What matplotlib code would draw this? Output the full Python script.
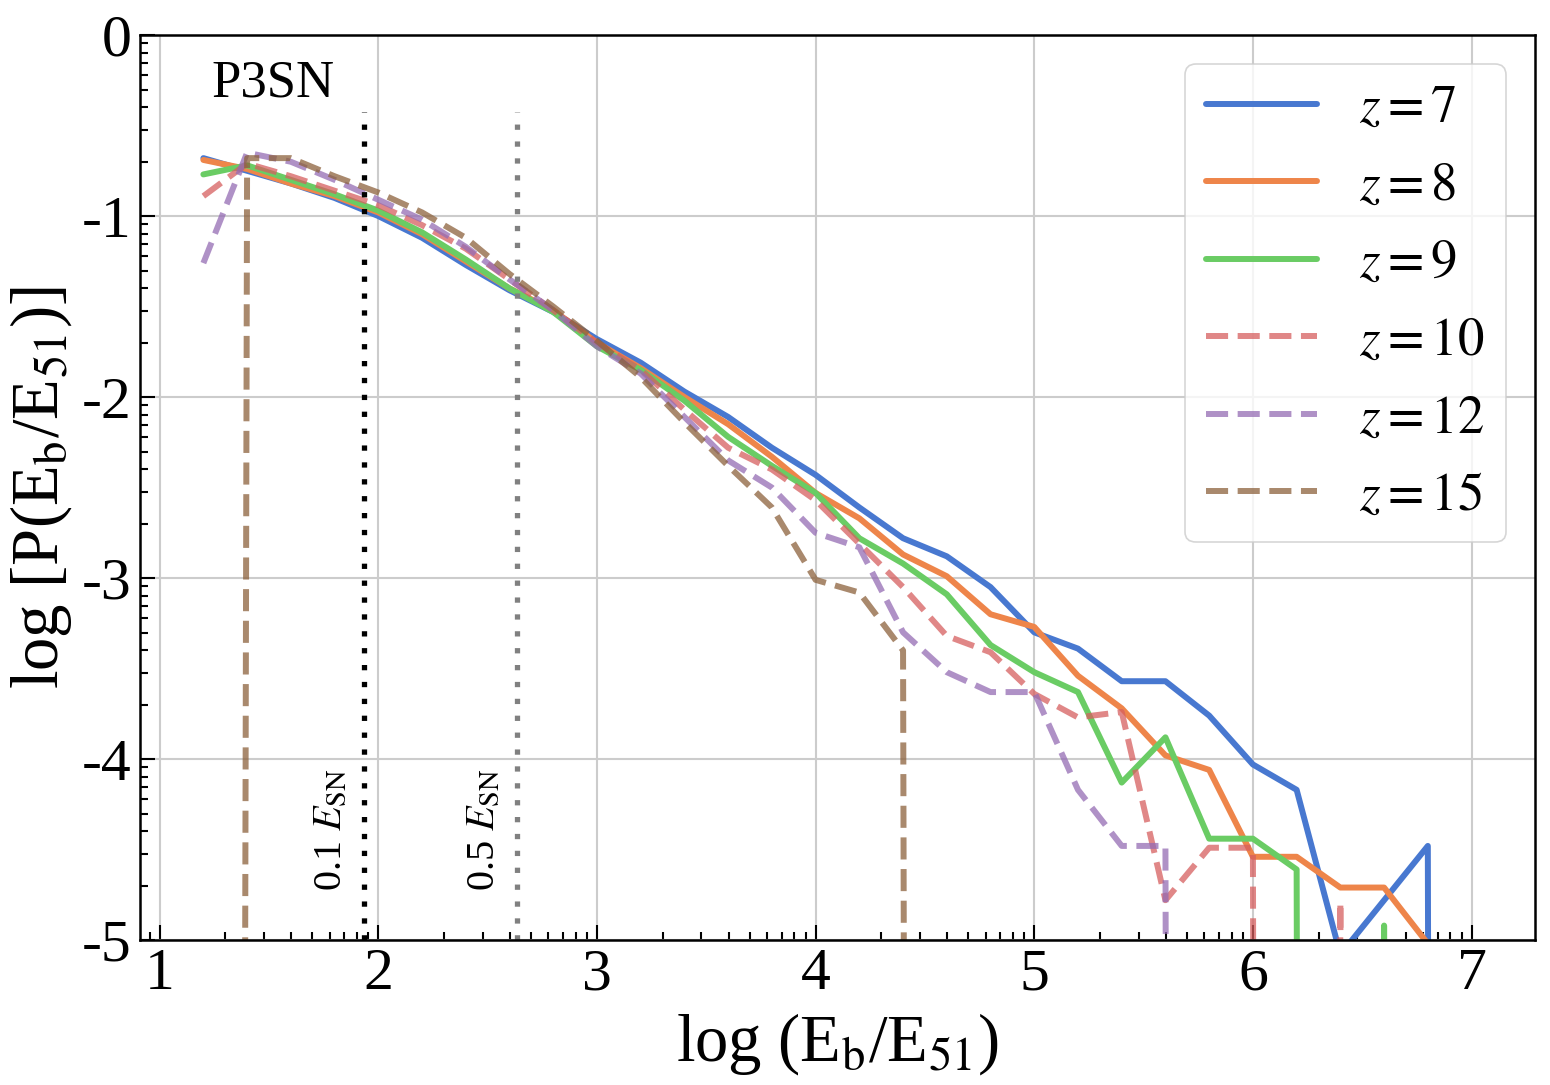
import numpy as np
import matplotlib
matplotlib.use('Agg')
import matplotlib.pyplot as plt
from matplotlib.ticker import FixedLocator

plt.rcParams['font.family'] = ['Liberation Serif', 'DejaVu Serif']
plt.rcParams['mathtext.fontset'] = 'stix'

E = -99.0  # empty bin, log of zero

log_eb = [1.2, 1.4, 1.6, 1.8, 2.0, 2.2, 2.4, 2.6, 2.8, 3.0,
          3.2, 3.4, 3.6, 3.8, 4.0, 4.2, 4.4, 4.6, 4.8, 5.0,
          5.2, 5.4, 5.6, 5.8, 6.0, 6.2, 6.4, 6.6, 6.8, 7.0]

p_z7 = [-0.68, -0.75, -0.82, -0.90, -1.00, -1.12, -1.27, -1.41, -1.53, -1.68,
        -1.81, -1.97, -2.11, -2.28, -2.43, -2.61, -2.78, -2.88, -3.05, -3.30,
        -3.39, -3.57, -3.57, -3.76, -4.03, -4.17, -5.08, -4.78, -4.48, E]
p_z8 = [-0.69, -0.74, -0.82, -0.89, -0.98, -1.10, -1.25, -1.40, -1.52, -1.70,
        -1.84, -2.00, -2.15, -2.33, -2.53, -2.67, -2.87, -2.99, -3.20, -3.27,
        -3.54, -3.72, -3.98, -4.06, -4.54, -4.54, -4.71, -4.71, -5.02, E]
p_z9 = [-0.77, -0.72, -0.80, -0.88, -0.97, -1.09, -1.24, -1.40, -1.53, -1.72,
        -1.85, -2.02, -2.22, -2.38, -2.53, -2.78, -2.92, -3.09, -3.37, -3.52,
        -3.63, -4.13, -3.88, -4.44, -4.44, -4.61, E, -4.92, E, E]
p_z10 = [-0.89, -0.71, -0.78, -0.86, -0.94, -1.05, -1.18, -1.35, -1.52, -1.70,
         -1.85, -2.07, -2.28, -2.40, -2.57, -2.81, -3.05, -3.32, -3.41, -3.64,
         -3.77, -3.74, -4.78, -4.49, -4.49, E, -4.79, E, E, E]
p_z12 = [-1.26, -0.65, -0.70, -0.80, -0.91, -1.02, -1.17, -1.35, -1.52, -1.72,
         -1.87, -2.11, -2.35, -2.50, -2.75, -2.83, -3.30, -3.52, -3.63, -3.63,
         -4.17, -4.48, -4.48, E, E, E, E, E, E, E]
p_z15 = [E, -0.68, -0.68, -0.78, -0.87, -0.98, -1.12, -1.32, -1.50, -1.69,
         -1.89, -2.14, -2.38, -2.61, -3.01, -3.08, -3.40, E, E, E,
         E, E, E, E, E, E, E, E, E, E]

series = [('7', p_z7), ('8', p_z8), ('9', p_z9),
          ('10', p_z10), ('12', p_z12), ('15', p_z15)]
colors = ['#4878D0', '#EE854A', '#6ACC64', '#D65F5F', '#956CB4', '#8C613C']
styles = ['-', '-', '-', '--', '--', '--']
alphas = [1, 1, 1, 0.75, 0.75, 0.75]

e_sn_lines = [1.936, 2.635]
e_sn_labels = ['0.1', '0.5']
e_sn_colors = ['black', 'gray']

xticks = [1, 2, 3, 4, 5, 6, 7]
yticks = [-5, -4, -3, -2, -1, 0]
ytick_labels = ['-5', '-4', '-3', '-2', '-1', '0']

fig = plt.figure(figsize=(15.5, 10.85), dpi=100)
ax = fig.add_axes([0.0903, 0.1336, 0.9, 0.8341])

for (z, p), c, ls, a in zip(series, colors, styles, alphas):
    ax.plot(log_eb, p, color=c, ls=ls, lw=4.3, alpha=a, solid_capstyle='round',
            label=r'$z = %s$' % z)

for xv, lab, c in zip(e_sn_lines, e_sn_labels, e_sn_colors):
    ax.axvline(xv, ymin=0, ymax=0.915, color=c, lw=3.8, ls=(0, (1, 2.2)))
    ax.text(xv - 0.15, -4.73, lab + r' $E_{\rm SN}$', rotation=90,
            ha='center', va='bottom', fontsize=29)

ax.text(1.235, -0.34, 'P3SN', fontsize=38)

ax.set_xlim(0.91, 7.29)
ax.set_ylim(-5, 0)
ax.set_xticks(xticks)
ax.set_xticklabels([str(t) for t in xticks])
ax.set_yticks(yticks)
ax.set_yticklabels(ytick_labels)
ax.xaxis.set_minor_locator(FixedLocator([n + np.log10(k) for n in range(0, 8) for k in range(2, 10)]))
ax.yaxis.set_minor_locator(FixedLocator([n + np.log10(k) for n in range(-6, 1) for k in range(2, 10)]))
ax.tick_params(which='both', direction='in', top=False, right=False, labelsize=43, width=1.5, color='black')
ax.tick_params(which='major', length=11, pad=6)
ax.tick_params(which='minor', length=6)
ax.grid(True, which='major', color='#cccccc', lw=1.5)
ax.set_axisbelow(True)
for s in ax.spines.values():
    s.set_linewidth(1.8)
    s.set_color('black')

ax.set_xlabel(r'log (E$_{\rm b}$/E$_{\rm 51}$)', fontsize=48, labelpad=6)
ax.set_ylabel(r'log [P(E$_{\rm b}$/E$_{\rm 51}$)]', fontsize=48, labelpad=6)

leg = ax.legend(loc='upper right', fontsize=38, handlelength=2.1, handletextpad=0.8,
                labelspacing=0.56, borderaxespad=0.55, fancybox=True,
                edgecolor='#cccccc', framealpha=0.8)
leg.get_frame().set_linewidth(1.2)

fig.savefig('out.png', dpi=100)
